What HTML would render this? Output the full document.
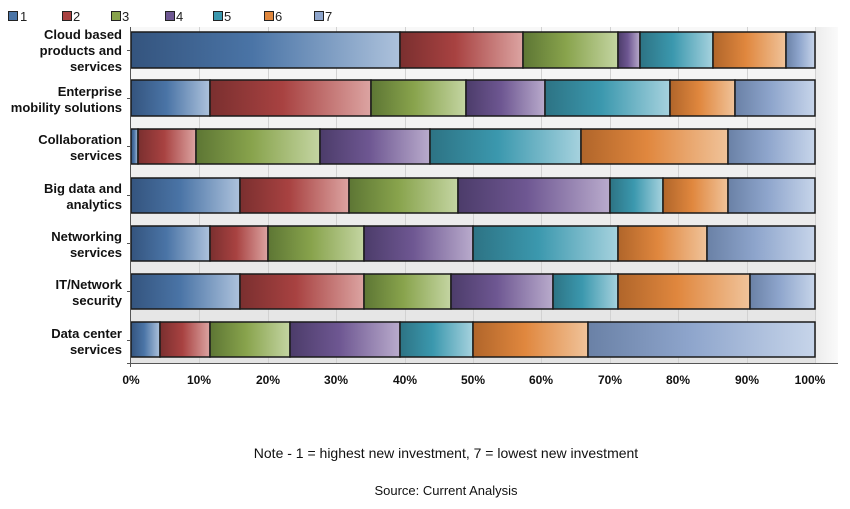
<!DOCTYPE html>
<html><head><meta charset="utf-8"><style>
body{margin:0;background:#fff;width:850px;height:509px;overflow:hidden}
svg{display:block}
.cat{font:bold 13px "Liberation Sans",sans-serif;fill:#111;text-anchor:end}
.tk{font:bold 12px "Liberation Sans",sans-serif;fill:#111;text-anchor:middle}
.lg{font:13px "Liberation Sans",sans-serif;fill:#222}
.nt{font:13px "Liberation Sans",sans-serif;fill:#111;text-anchor:middle}
</style></head><body>
<svg width="850" height="509" viewBox="0 0 850 509" xmlns="http://www.w3.org/2000/svg">
<defs>
<linearGradient id="bg" x1="0" y1="0" x2="0" y2="1"><stop offset="0" stop-color="#f8f8f8"/><stop offset="1" stop-color="#e3e3e3"/></linearGradient>
<linearGradient id="bgr" x1="0" y1="0" x2="1" y2="0"><stop offset="0" stop-color="#ececec"/><stop offset="1" stop-color="#fafafa"/></linearGradient>
<linearGradient id="g1"><stop offset="0" stop-color="#34547e"/><stop offset=".45" stop-color="#4a74a6"/><stop offset="1" stop-color="#adc2dc"/></linearGradient>
<linearGradient id="g2"><stop offset="0" stop-color="#7a2f2f"/><stop offset=".45" stop-color="#a84241"/><stop offset="1" stop-color="#dca4a2"/></linearGradient>
<linearGradient id="g3"><stop offset="0" stop-color="#5d7634"/><stop offset=".45" stop-color="#88a34c"/><stop offset="1" stop-color="#c4d5a2"/></linearGradient>
<linearGradient id="g4"><stop offset="0" stop-color="#4c3c6a"/><stop offset=".45" stop-color="#6e5792"/><stop offset="1" stop-color="#b9abcc"/></linearGradient>
<linearGradient id="g5"><stop offset="0" stop-color="#2d7384"/><stop offset=".45" stop-color="#3b98ae"/><stop offset="1" stop-color="#a6d2de"/></linearGradient>
<linearGradient id="g6"><stop offset="0" stop-color="#b0652a"/><stop offset=".45" stop-color="#e0873e"/><stop offset="1" stop-color="#f0c39a"/></linearGradient>
<linearGradient id="g7"><stop offset="0" stop-color="#6a81a6"/><stop offset=".45" stop-color="#8ea5cc"/><stop offset="1" stop-color="#c7d5ea"/></linearGradient>
</defs>
<rect x="131" y="27" width="684" height="336" fill="url(#bg)"/>
<rect x="815" y="27" width="23" height="336" fill="url(#bgr)"/>
<g stroke="#d2d2d2" stroke-width="1">
<line x1="199.5" y1="27" x2="199.5" y2="363"/><line x1="268.5" y1="27" x2="268.5" y2="363"/><line x1="336.5" y1="27" x2="336.5" y2="363"/><line x1="405.5" y1="27" x2="405.5" y2="363"/><line x1="473.5" y1="27" x2="473.5" y2="363"/><line x1="541.5" y1="27" x2="541.5" y2="363"/><line x1="610.5" y1="27" x2="610.5" y2="363"/><line x1="678.5" y1="27" x2="678.5" y2="363"/><line x1="747.5" y1="27" x2="747.5" y2="363"/><line x1="815.5" y1="27" x2="815.5" y2="363"/>
</g>
<g stroke="#1a1a1a" stroke-width="1.5">
<rect x="131" y="32" width="269" height="36" fill="url(#g1)"/><rect x="400" y="32" width="123" height="36" fill="url(#g2)"/><rect x="523" y="32" width="95" height="36" fill="url(#g3)"/><rect x="618" y="32" width="22" height="36" fill="url(#g4)"/><rect x="640" y="32" width="73" height="36" fill="url(#g5)"/><rect x="713" y="32" width="73" height="36" fill="url(#g6)"/><rect x="786" y="32" width="29" height="36" fill="url(#g7)"/>
<rect x="131" y="80" width="79" height="36" fill="url(#g1)"/><rect x="210" y="80" width="161" height="36" fill="url(#g2)"/><rect x="371" y="80" width="95" height="36" fill="url(#g3)"/><rect x="466" y="80" width="79" height="36" fill="url(#g4)"/><rect x="545" y="80" width="125" height="36" fill="url(#g5)"/><rect x="670" y="80" width="65" height="36" fill="url(#g6)"/><rect x="735" y="80" width="80" height="36" fill="url(#g7)"/>
<rect x="131" y="129" width="7" height="35" fill="url(#g1)"/><rect x="138" y="129" width="58" height="35" fill="url(#g2)"/><rect x="196" y="129" width="124" height="35" fill="url(#g3)"/><rect x="320" y="129" width="110" height="35" fill="url(#g4)"/><rect x="430" y="129" width="151" height="35" fill="url(#g5)"/><rect x="581" y="129" width="147" height="35" fill="url(#g6)"/><rect x="728" y="129" width="87" height="35" fill="url(#g7)"/>
<rect x="131" y="178" width="109" height="35" fill="url(#g1)"/><rect x="240" y="178" width="109" height="35" fill="url(#g2)"/><rect x="349" y="178" width="109" height="35" fill="url(#g3)"/><rect x="458" y="178" width="152" height="35" fill="url(#g4)"/><rect x="610" y="178" width="53" height="35" fill="url(#g5)"/><rect x="663" y="178" width="65" height="35" fill="url(#g6)"/><rect x="728" y="178" width="87" height="35" fill="url(#g7)"/>
<rect x="131" y="226" width="79" height="35" fill="url(#g1)"/><rect x="210" y="226" width="58" height="35" fill="url(#g2)"/><rect x="268" y="226" width="96" height="35" fill="url(#g3)"/><rect x="364" y="226" width="109" height="35" fill="url(#g4)"/><rect x="473" y="226" width="145" height="35" fill="url(#g5)"/><rect x="618" y="226" width="89" height="35" fill="url(#g6)"/><rect x="707" y="226" width="108" height="35" fill="url(#g7)"/>
<rect x="131" y="274" width="109" height="35" fill="url(#g1)"/><rect x="240" y="274" width="124" height="35" fill="url(#g2)"/><rect x="364" y="274" width="87" height="35" fill="url(#g3)"/><rect x="451" y="274" width="102" height="35" fill="url(#g4)"/><rect x="553" y="274" width="65" height="35" fill="url(#g5)"/><rect x="618" y="274" width="132" height="35" fill="url(#g6)"/><rect x="750" y="274" width="65" height="35" fill="url(#g7)"/>
<rect x="131" y="322" width="29" height="35" fill="url(#g1)"/><rect x="160" y="322" width="50" height="35" fill="url(#g2)"/><rect x="210" y="322" width="80" height="35" fill="url(#g3)"/><rect x="290" y="322" width="110" height="35" fill="url(#g4)"/><rect x="400" y="322" width="73" height="35" fill="url(#g5)"/><rect x="473" y="322" width="115" height="35" fill="url(#g6)"/><rect x="588" y="322" width="227" height="35" fill="url(#g7)"/>
</g>
<g stroke="#555" stroke-width="1">
<line x1="130.5" y1="27" x2="130.5" y2="367"/><line x1="127" y1="363.5" x2="838" y2="363.5"/>
<line x1="127" y1="50.5" x2="130" y2="50.5"/><line x1="127" y1="98.5" x2="130" y2="98.5"/><line x1="127" y1="146.5" x2="130" y2="146.5"/><line x1="127" y1="195.5" x2="130" y2="195.5"/><line x1="127" y1="243.5" x2="130" y2="243.5"/><line x1="127" y1="291.5" x2="130" y2="291.5"/><line x1="127" y1="340.5" x2="130" y2="340.5"/>
</g>
<text class="cat" x="122" y="39">Cloud based</text><text class="cat" x="122" y="55">products and</text><text class="cat" x="122" y="71">services</text>
<text class="cat" x="122" y="96">Enterprise</text><text class="cat" x="122" y="112">mobility solutions</text>
<text class="cat" x="122" y="144">Collaboration</text><text class="cat" x="122" y="160">services</text>
<text class="cat" x="122" y="193">Big data and</text><text class="cat" x="122" y="209">analytics</text>
<text class="cat" x="122" y="241">Networking</text><text class="cat" x="122" y="257">services</text>
<text class="cat" x="122" y="289">IT/Network</text><text class="cat" x="122" y="305">security</text>
<text class="cat" x="122" y="338">Data center</text><text class="cat" x="122" y="354">services</text>
<g>
<text class="tk" x="131" y="384">0%</text><text class="tk" x="199" y="384">10%</text><text class="tk" x="268" y="384">20%</text><text class="tk" x="336" y="384">30%</text><text class="tk" x="405" y="384">40%</text><text class="tk" x="473" y="384">50%</text><text class="tk" x="541" y="384">60%</text><text class="tk" x="610" y="384">70%</text><text class="tk" x="678" y="384">80%</text><text class="tk" x="747" y="384">90%</text><text class="tk" x="810" y="384">100%</text>
</g>
<g stroke="#222" stroke-width="1">
<rect x="8.5" y="11.5" width="9" height="9" fill="#4a74a6"/><rect x="62.5" y="11.5" width="9" height="9" fill="#a84241"/><rect x="111.5" y="11.5" width="9" height="9" fill="#88a34c"/><rect x="165.5" y="11.5" width="9" height="9" fill="#6e5792"/><rect x="213.5" y="11.5" width="9" height="9" fill="#3b98ae"/><rect x="264.5" y="11.5" width="9" height="9" fill="#e0873e"/><rect x="314.5" y="11.5" width="9" height="9" fill="#8ea5cc"/>
</g>
<text class="lg" x="20" y="21">1</text><text class="lg" x="73" y="21">2</text><text class="lg" x="122" y="21">3</text><text class="lg" x="176" y="21">4</text><text class="lg" x="224" y="21">5</text><text class="lg" x="275" y="21">6</text><text class="lg" x="325" y="21">7</text>
<text class="nt" x="446" y="458" style="font-size:14px">Note - 1 = highest new investment, 7 = lowest new investment</text>
<text class="nt" x="446" y="495">Source: Current Analysis</text>
</svg>
</body></html>
